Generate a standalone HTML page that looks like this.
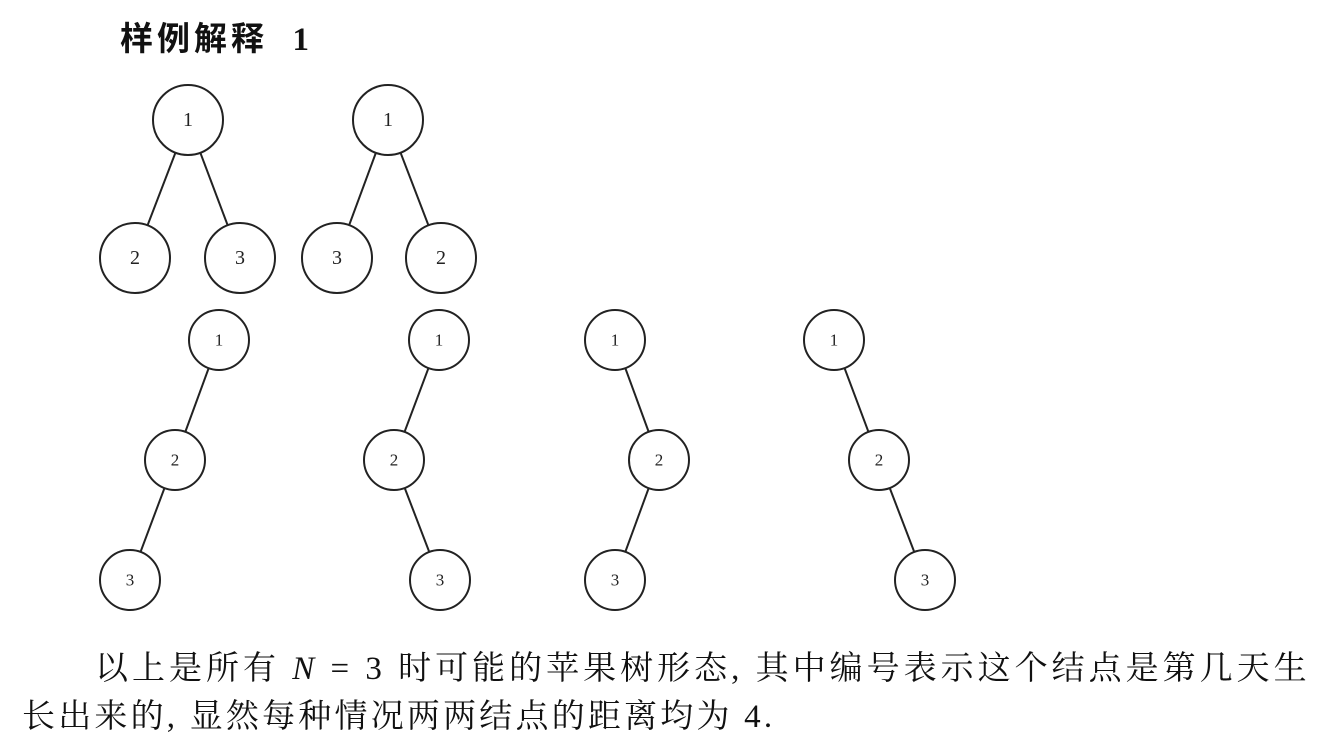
<!DOCTYPE html>
<html><head><meta charset="utf-8"><style>
html,body{margin:0;padding:0;background:#fff;}
body{width:1317px;height:755px;position:relative;overflow:hidden;font-family:"Liberation Serif","Noto Serif CJK SC",serif;}
.t{position:absolute;white-space:nowrap;color:#111;}
</style></head><body>
<div class="t" style="left:120px;top:12px;font-size:33px;font-weight:bold;letter-spacing:4px;font-family:'Liberation Serif','Noto Sans CJK SC',serif;">样例解释&nbsp;&nbsp;1</div>
<svg width="1317" height="640" style="position:absolute;left:0;top:0" font-family="Liberation Serif, serif">
<g stroke="#222" stroke-width="2" fill="none">
<line x1="188" y1="120" x2="135" y2="258"/><line x1="188" y1="120" x2="240" y2="258"/>
<line x1="388" y1="120" x2="337" y2="258"/><line x1="388" y1="120" x2="441" y2="258"/>
<line x1="219" y1="340" x2="175" y2="460"/><line x1="175" y1="460" x2="130" y2="580"/>
<line x1="439" y1="340" x2="394" y2="460"/><line x1="394" y1="460" x2="440" y2="580"/>
<line x1="615" y1="340" x2="659" y2="460"/><line x1="659" y1="460" x2="615" y2="580"/>
<line x1="834" y1="340" x2="879" y2="460"/><line x1="879" y1="460" x2="925" y2="580"/>
</g>
<g stroke="#222" stroke-width="2" fill="#fff">
<circle cx="188" cy="120" r="35"/><circle cx="135" cy="258" r="35"/><circle cx="240" cy="258" r="35"/>
<circle cx="388" cy="120" r="35"/><circle cx="337" cy="258" r="35"/><circle cx="441" cy="258" r="35"/>
<circle cx="219" cy="340" r="30"/><circle cx="175" cy="460" r="30"/><circle cx="130" cy="580" r="30"/>
<circle cx="439" cy="340" r="30"/><circle cx="394" cy="460" r="30"/><circle cx="440" cy="580" r="30"/>
<circle cx="615" cy="340" r="30"/><circle cx="659" cy="460" r="30"/><circle cx="615" cy="580" r="30"/>
<circle cx="834" cy="340" r="30"/><circle cx="879" cy="460" r="30"/><circle cx="925" cy="580" r="30"/>
</g>
<g fill="#222" font-size="20" text-anchor="middle" dominant-baseline="central">
<text x="188" y="120">1</text><text x="135" y="258">2</text><text x="240" y="258">3</text>
<text x="388" y="120">1</text><text x="337" y="258">3</text><text x="441" y="258">2</text>
<g font-size="17">
<text x="219" y="340">1</text><text x="175" y="460">2</text><text x="130" y="580">3</text>
<text x="439" y="340">1</text><text x="394" y="460">2</text><text x="440" y="580">3</text>
<text x="615" y="340">1</text><text x="659" y="460">2</text><text x="615" y="580">3</text>
<text x="834" y="340">1</text><text x="879" y="460">2</text><text x="925" y="580">3</text>
</g></g>
</svg>
<div class="t" style="left:95px;top:642px;font-size:33px;letter-spacing:4px;">以上是所有 <i>N</i> = 3 时可能的苹果树形态, 其中编号表示这个结点是第几天生</div>
<div class="t" style="left:22px;top:690px;font-size:33px;letter-spacing:3.2px;">长出来的, 显然每种情况两两结点的距离均为 4.</div>
</body></html>
